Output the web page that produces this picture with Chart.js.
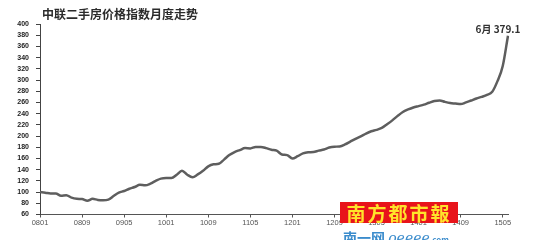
<!DOCTYPE html>
<html>
<head>
<meta charset="utf-8">
<script src="https://cdn.jsdelivr.net/npm/chart.js@4/dist/chart.umd.min.js"></script>
<style>
    html, body { margin: 0; padding: 0; background: #fff; overflow: hidden; }
    #wrap { position: relative; width: 540px; height: 240px; }
    #logo {
        position: absolute; left: 340px; top: 202px; width: 118px; height: 21px;
        background: #e8141b; color: #ffe32a; text-align: center;
        font: bold 19px 'Noto Sans CJK TC', sans-serif; line-height: 21px; letter-spacing: 2px;
    }
    #site {
        position: absolute; left: 343px; top: 229px; color: #3b8ccc;
        font: bold 14px 'Noto Sans CJK SC', sans-serif; line-height: 16px; white-space: nowrap;
    }
    #site i { font-family: 'DejaVu Serif', serif; font-weight: normal; }
    #site small { font-size: 8px; }
</style>
</head>
<body>
<div id="wrap">
    <canvas id="chart" width="540" height="240"></canvas>
    <div id="logo">南方都市報</div>
    <div id="site">南一网 <i>oeeee</i><small>.com</small></div>
</div>
<script>
'use strict';

// monthly index, 2008-01 .. 2015-06
const index = [
    100, 99, 97.5, 97.5, 93.5, 94.5, 90, 88, 87.5, 84.5, 88, 86,
    85.5, 86.5, 93, 99, 102, 106, 109, 113, 112, 115, 120, 124,
    125, 125, 131, 138, 131, 126.5, 131.5, 138, 146, 149.5, 150.5, 158,
    166, 171.5, 175, 178.5, 178, 180.5, 180.5, 178.5, 175.5, 174, 167, 166,
    160, 164, 169, 171, 171.5, 174, 176, 179.5, 181, 181.5, 185, 190,
    195, 199.5, 204.5, 208.5, 211, 214.5, 221, 228, 236, 243, 247.5, 251,
    253.5, 256, 259.5, 262.5, 263.5, 261, 259, 258, 257, 260, 263.5, 267,
    270, 273.5, 279, 298, 325, 379.1
];

// category labels yymm
const months = [];
for (let y = 8; y <= 15; y++) {
    for (let m = 1; m <= 12; m++) {
        if (months.length < index.length)
            months.push(String(y).padStart(2, '0') + String(m).padStart(2, '0'));
    }
}

const tickLabels = ['0801', '0809', '0905', '1001', '1009', '1105', '1201', '1209', '1305', '1401', '1409', '1505'];
const yTicks = [60, 80, 100, 120, 140, 160, 180, 200, 220, 240, 260, 280, 300, 320, 340, 360, 380, 400];

const title = '中联二手房价格指数月度走势';
const lastLabel = '6月 379.1';

// title + end label
const textPlugin = {
    id: 'texts',
    afterDatasetsDraw(chart) {
        const ctx = chart.ctx;
        ctx.save();
        ctx.fillStyle = '#2b2b2b';
        ctx.font = "bold 12px 'Noto Sans CJK SC'";
        ctx.textBaseline = 'middle';
        ctx.textAlign = 'left';
        ctx.fillText(title, 42, 14);

        const meta = chart.getDatasetMeta(0);
        const pt = meta.data[meta.data.length - 1];
        ctx.font = "bold 10px 'Noto Sans CJK SC'";
        ctx.textAlign = 'center';
        ctx.fillStyle = '#333';
        ctx.fillText(lastLabel, pt.x - 10, pt.y - 7);
        ctx.restore();
    }
};

const ctx = document.getElementById('chart').getContext('2d');
const chart = new Chart(ctx, {
    type: 'line',
    data: {
        labels: months,
        datasets: [{
            data: index,
            borderColor: '#5e5e5e',
            borderWidth: 2.5,
            pointRadius: 0,
            cubicInterpolationMode: 'monotone',
            fill: false,
        }]
    },
    options: {
        responsive: false,
        animation: false,
        layout: { padding: { left: 0, top: 24, right: 32, bottom: 0 } },
        plugins: {
            legend: { display: false },
            title: { display: false },
            tooltip: { enabled: false },
        },
        scales: {
            x: {
                offset: false,
                afterFit: (scale) => { scale.height = 25.5; },
                border: { color: '#555', width: 1 },
                grid: {
                    drawOnChartArea: false,
                    tickLength: 3,
                    color: (c) => tickLabels.includes(months[c.index]) ? '#555' : 'rgba(0,0,0,0)',
                },
                ticks: {
                    autoSkip: false,
                    maxRotation: 0,
                    padding: 1,
                    color: '#555',
                    font: { family: 'Liberation Sans', size: 7.5 },
                    callback: (v, i) => tickLabels.includes(months[i]) ? months[i] : '',
                },
            },
            y: {
                min: 60,
                max: 400,
                afterFit: (scale) => { scale.width = 40; },
                afterBuildTicks: (scale) => { scale.ticks = yTicks.map(v => ({ value: v })); },
                border: { color: '#444', width: 1 },
                grid: { drawOnChartArea: false, tickLength: 4, color: '#444' },
                ticks: {
                    autoSkip: false,
                    padding: 7,
                    color: '#222',
                    font: { family: 'Liberation Sans', size: 7, weight: 'bold' },
                },
            },
        },
    },
    plugins: [textPlugin],
});
</script>
</body>
</html>
